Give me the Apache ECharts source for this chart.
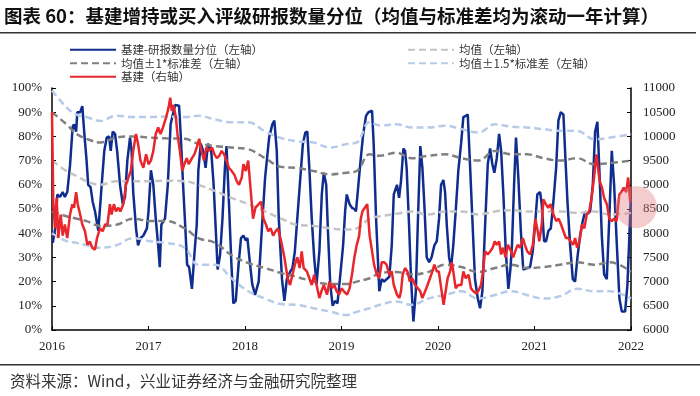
<!DOCTYPE html>
<html>
<head>
<meta charset="utf-8">
<script src="https://cdn.jsdelivr.net/npm/echarts@6/dist/echarts.min.js"></script>
<style>
  html, body { margin: 0; padding: 0; background: #fff; }
  #chart { width: 700px; height: 396px; }
</style>
</head>
<body>
<div id="chart"></div>
<script>
// x 值为 2016-01 起的月数
const yearLabels = ['2016', '2017', '2018', '2019', '2020', '2021', '2022'];

// 基建-研报数量分位（%）
const blue = [
  [0.1,36],[0.4,42],[0.66,56],[1.0,55],[1.33,57],[1.6,55],[1.9,57],[2.24,68],[2.57,84],[2.74,85],[3.0,82],[3.15,90],
  [3.5,90],[3.77,92.5],[4.0,82],[4.3,70],[4.5,60],[4.8,59],[5.06,53],[5.35,49],[5.76,41],[6.18,60],[6.5,74],[6.8,79.5],
  [7.1,80],[7.3,74],[7.55,82],[7.84,81],[8.1,74],[8.46,60],[8.8,52],[9.08,55],[9.37,70],[9.7,79.5],[9.9,74],[10.1,57],
  [10.45,42],[10.7,35],[11.0,38],[11.36,39],[11.8,42],[12.0,49],[12.3,66],[12.6,60],[12.9,46],[13.2,35],[13.4,26],
  [13.6,43.5],[14.05,46],[14.4,60],[14.75,85],[15.3,93],[15.8,92.7],[16.0,81],[16.3,60],[16.6,41],[16.8,27],[17.05,26],
  [17.4,17],[17.7,31],[18.0,43.5],[18.2,66],[18.5,77],[18.8,74],[19.1,67],[19.4,77],[19.8,74],[20.1,60],[20.4,39],
  [20.6,25],[20.9,31],[21.2,46],[21.5,67],[21.7,76],[22.0,53],[22.3,28],[22.55,11],[22.85,12],[23.2,27],[23.5,38],
  [23.8,39],[24.1,37],[24.3,38],[24.6,28],[24.9,19],[25.25,14.5],[25.7,20],[26.1,42],[26.5,63],[27.0,79.5],[27.4,85],
  [27.65,86.5],[27.95,74],[28.2,46],[28.6,21],[28.9,12],[29.2,21],[29.6,24],[29.9,25.5],[30.2,32.5],[30.5,46],
  [30.85,61.5],[31.2,77],[31.5,81.6],[31.75,82],[32.0,67],[32.3,46],[32.6,30],[32.9,19],[33.25,32.5],[33.55,56],
  [33.8,65],[34.1,60],[34.3,42],[34.6,19],[34.9,10],[35.2,12],[35.5,11],[35.8,21],[36.2,35],[36.45,49],[36.65,56],
  [37.0,52],[37.3,50.5],[37.6,50],[37.8,49],[38.1,60],[38.4,71],[38.7,81],[39.05,88.5],[39.35,90],[39.8,90.6],
  [40.0,77],[40.3,46],[40.7,16],[41.0,21],[41.3,20],[41.6,21],[41.95,22],[42.25,35],[42.5,56],[42.9,60],[43.16,54.6],
  [43.4,61.5],[43.7,75],[43.9,74],[44.1,67],[44.4,43.5],[44.65,21],[44.94,3.5],[45.24,16],[45.5,45],[45.8,76],
  [46.06,67],[46.3,52],[46.6,30],[46.9,28],[47.2,30],[47.55,35],[47.85,36.7],[48.13,46],[48.38,60],[48.67,62],
  [48.88,57],[49.09,43.5],[49.38,30],[49.63,26],[49.9,35],[50.2,49],[50.53,66],[50.87,77],[51.15,88],[51.45,88.5],
  [51.7,89],[52.0,67],[52.27,46],[52.6,21],[52.95,13],[53.23,9],[53.52,16],[53.86,43.5],[54.19,68.5],[54.48,75],
  [54.76,68.5],[55.01,65],[55.31,71],[55.6,81],[55.85,74],[56.13,56],[56.43,32.5],[56.75,17],[57.0,25],[57.2,35],
  [57.46,60],[57.7,79.5],[57.99,63],[58.3,41],[58.6,25],[59.0,25.5],[59.45,26],[59.78,32.5],[60.07,43.5],[60.35,56],
  [60.7,57],[60.9,52],[61.19,36.7],[61.44,36.7],[61.73,41],[62.03,42],[62.35,53],[62.69,67],[62.97,86.5],[63.27,90],
  [63.6,89],[63.8,74],[64.1,53],[64.43,35],[64.76,21],[65.05,20],[65.34,30],[65.67,39],[66.0,45],[66.29,49],
  [66.58,48],[66.92,49],[67.25,60],[67.54,82],[67.82,86],[68.07,66],[68.37,39],[68.66,23],[68.99,21],[69.32,48],
  [69.61,74],[69.9,60],[70.24,35],[70.56,13],[70.86,7.6],[71.27,7.6],[71.56,19],[71.8,39],[71.98,55]
];

// 滚动一年均值与标准差带（%）
const meanLine = [
  [0,70],[1.8,65.7],[3.07,63.6],[4.3,61.5],[6.0,60],[8.0,61.5],[10.1,61.5],[12.2,61.5],[14.2,61.7],[16.5,61.5],
  [18.2,60],[20.3,57.4],[22.3,54.6],[24.4,52],[26.5,49],[28.5,46],[30.4,43.5],[32.5,43],[34.6,42],[36.6,41.5],
  [37.9,42],[39.5,46],[40.8,47],[42.8,48],[44.7,49],[46.8,47.7],[48.9,49],[50.9,49],[53.0,47.7],[55.1,49],
  [57.1,49.5],[59.05,49],[61.1,49],[63.2,49],[65.3,48.4],[67.4,49],[69.4,47.7],[72,48.4]
];
const sd1Upper = [
  [0,90],[1.8,85],[3.07,81],[4.3,79],[6.0,77.5],[8.0,79.5],[10.1,80],[12.2,79.5],[14.2,79.2],[16.5,79],
  [18.2,77],[20.3,76],[22.3,75.4],[24.4,74.7],[26.5,71],[28.5,67.4],[30.4,67],[32.5,65.7],[34.6,64.3],[36.6,65],
  [37.9,65.7],[39.5,72.6],[40.8,72],[42.8,73.3],[44.7,71],[46.8,72],[48.9,72.6],[50.9,71],[53.0,70],[55.1,74],
  [57.1,72.6],[59.05,72.6],[61.1,71],[63.2,70],[65.3,71],[67.4,68.5],[69.4,69],[72,70]
];
const sd1Lower = [
  [0,49],[1.8,47],[3.07,46],[4.3,45],[6.0,43],[8.0,43.5],[10.1,46],[12.2,45],[14.2,45],[16.5,42],
  [18.2,38],[20.3,36],[22.3,31],[24.4,27.7],[26.5,25.6],[28.5,23.5],[30.4,22],[32.5,20],[34.6,19],[36.6,19],
  [37.9,20],[39.5,21.4],[40.8,23.5],[42.8,24],[44.7,23],[46.8,24],[48.9,27],[50.9,26],[53.0,24],[55.1,25.6],
  [57.1,27],[59.05,25.6],[61.1,26],[63.2,27],[65.3,28],[67.4,27],[69.4,28],[72,24]
];
const sd15Upper = [
  [0,99],[1.8,92],[3.07,89],[4.3,88],[6.0,86.4],[8.0,88.5],[10.1,88],[12.2,88],[14.2,88.2],[16.5,88],
  [18.2,88.5],[20.3,87],[22.3,85.8],[24.4,85.8],[26.5,82],[28.5,79.3],[30.4,78],[32.5,77.5],[34.6,75.4],[36.6,76.8],
  [37.9,77.5],[39.5,85.8],[40.8,84.5],[42.8,85],[44.7,83.7],[46.8,83.7],[48.9,84.4],[50.9,83],[53.0,81.6],[55.1,85],
  [57.1,84],[59.05,83.7],[61.1,83],[63.2,82.3],[65.3,82.3],[67.4,78.8],[69.4,79.5],[72,80.9]
];
const sd15Lower = [
  [0,40],[1.8,36.7],[3.07,36],[4.3,35],[6.0,34],[8.0,35],[10.1,38],[12.2,36.7],[14.2,36],[16.5,34],
  [18.2,27],[20.3,27],[22.3,21.4],[24.4,16],[26.5,13],[28.5,10.7],[30.4,10.4],[32.5,9],[34.6,7.6],[36.6,6.2],
  [37.9,7.5],[39.5,9],[40.8,10.4],[42.8,11.8],[44.7,10.4],[46.8,13],[48.9,14.5],[50.9,16],[53.0,13],[55.1,14.5],
  [57.1,16],[59.05,14.5],[61.1,13],[63.2,14],[65.3,17],[67.4,16],[69.4,16],[72,13]
];

// 基建指数（右轴）
const red = [
  [0,10500],[0.16,8650],[0.37,8100],[0.58,8730],[0.78,7900],[1.08,8385],[1.33,7950],[1.6,8180],[1.9,7900],[2.24,8385],
  [2.53,8600],[2.74,8525],[3.0,8850],[3.2,8600],[3.5,8385],[3.77,8180],[4.1,8040],[4.4,7760],[4.7,7830],[5.0,7700],
  [5.35,7660],[5.6,7900],[5.97,8100],[6.3,8040],[6.6,8180],[6.9,8180],[7.2,8600],[7.4,8385],[7.7,8600],[7.96,8450],
  [8.25,8525],[8.5,8450],[8.87,8600],[9.2,9000],[9.5,9150],[9.8,9285],[10.1,9700],[10.45,10050],[10.7,9850],[11.0,9500],
  [11.36,9350],[11.7,9630],[12.0,9425],[12.3,9500],[12.6,9700],[12.9,10050],[13.2,10185],[13.5,10050],[13.8,10185],
  [14.2,10400],[14.5,10600],[14.7,10800],[14.9,10530],[15.1,10650],[15.4,10400],[15.6,10050],[15.9,9700],[16.2,9285],
  [16.45,9425],[16.75,9550],[17.0,9425],[17.4,9550],[17.7,9630],[18.0,9770],[18.3,9950],[18.6,9700],[18.9,9500],
  [19.2,9770],[19.5,9700],[19.9,9770],[20.2,9630],[20.5,9550],[20.8,9600],[21.1,9700],[21.4,9630],[21.7,9500],
  [22.0,9350],[22.35,9285],[22.7,9200],[22.97,9075],[23.25,9000],[23.6,9150],[23.8,9425],[24.1,9285],[24.4,9500],
  [24.75,8800],[25.0,8300],[25.3,8525],[25.7,8600],[26.0,8650],[26.3,8300],[26.6,8180],[26.9,8040],[27.2,8100],
  [27.5,7950],[27.8,8040],[28.1,8100],[28.5,7830],[28.9,7500],[29.3,7070],[29.6,6930],[29.9,7140],[30.2,7350],
  [30.5,7500],[30.8,7280],[31.05,7625],[31.3,7280],[31.7,7210],[32.0,7070],[32.3,6930],[32.6,7140],[32.9,6930],
  [33.25,6660],[33.5,6800],[33.8,6930],[34.2,6730],[34.5,7000],[34.8,6860],[35.1,6930],[35.4,6800],[35.7,6730],
  [36.0,6860],[36.3,6800],[36.7,6730],[37.0,6860],[37.3,7140],[37.6,7500],[37.9,7760],[38.2,7950],[38.4,8300],
  [38.6,8450],[38.9,8525],[39.2,8600],[39.5,7950],[39.8,7625],[40.05,7350],[40.4,7140],[40.7,7070],[41.0,7400],
  [41.3,7400],[41.6,7350],[41.95,7140],[42.25,7210],[42.5,6930],[42.9,6730],[43.2,6660],[43.4,6800],[43.6,7140],
  [43.9,7280],[44.2,7210],[44.5,7000],[44.8,7070],[45.15,6930],[45.5,6860],[45.8,6800],[46.05,6660],[46.4,6800],
  [46.7,6930],[47.0,7070],[47.3,7210],[47.55,7350],[47.85,7210],[48.1,7210],[48.4,6860],[48.7,6520],[48.95,6800],
  [49.2,7070],[49.5,7210],[49.7,7400],[49.9,7210],[50.2,6860],[50.5,6930],[50.9,6930],[51.15,7210],[51.45,7070],
  [51.8,7140],[52.1,6860],[52.4,6800],[52.7,6760],[53.0,6800],[53.35,6930],[53.6,7210],[53.85,7625],[54.2,7560],
  [54.5,7625],[54.8,7700],[55.05,7830],[55.3,7760],[55.6,7830],[55.85,7560],[56.1,7700],[56.4,7500],[56.7,7760],
  [57.1,7625],[57.35,7500],[57.6,7625],[57.9,7760],[58.2,7700],[58.55,7900],[58.8,7760],[59.1,7625],[59.45,7560],
  [59.8,7760],[60.1,8300],[60.4,8040],[60.6,7830],[60.9,8180],[61.1,8700],[61.4,8600],[61.7,8525],[62.0,8600],
  [62.35,8385],[62.7,8250],[63.0,8300],[63.3,8180],[63.6,8040],[63.9,7900],[64.2,7900],[64.5,7830],[64.8,7760],
  [65.05,7900],[65.3,7700],[65.6,7830],[65.9,8180],[66.2,8100],[66.5,8385],[66.8,8450],[67.1,8730],[67.4,9150],
  [67.7,9630],[68.1,9075],[68.4,8940],[68.65,8730],[69.0,8600],[69.3,8300],[69.6,8250],[69.9,8300],[70.2,8250],
  [70.55,8800],[70.8,8850],[71.1,8940],[71.4,8850],[71.65,9150],[71.9,8650]
];

const chart = echarts.init(document.getElementById('chart'));

const numFont = 'Liberation Serif';
const cjkFont = '"Noto Sans CJK SC", sans-serif';

function dashLine(name, data, color) {
  return {
    name: name,
    type: 'line',
    data: data,
    smooth: 0.4,
    symbol: 'none',
    silent: true,
    lineStyle: { color: color, width: 2.5, type: [7, 4] },
    itemStyle: { color: color }
  };
}

const legendBase = {
  top: 39, orient: 'vertical', itemGap: 2, itemWidth: 46, itemHeight: 12,
  itemStyle: { opacity: 0 },
  textStyle: { fontFamily: cjkFont, fontSize: 11.5, color: '#333' }
};

chart.setOption({
  animation: false,
  backgroundColor: '#fff',
  grid: { left: 52, right: 69, top: 88, bottom: 66 },
  legend: [
    Object.assign({}, legendBase, {
      left: 64,
      data: ['基建-研报数量分位（左轴）', '均值±1*标准差（左轴）', '基建（右轴）']
    }),
    Object.assign({}, legendBase, {
      left: 402,
      data: ['均值（左轴）', '均值±1.5*标准差（左轴）']
    })
  ],
  xAxis: {
    type: 'value', min: 0, max: 72, interval: 12,
    axisLine: { lineStyle: { color: '#000', width: 1.5 } },
    axisTick: { inside: true, length: 4, lineStyle: { color: '#000' } },
    splitLine: { show: false },
    axisLabel: {
      formatter: v => yearLabels[v / 12], margin: 10,
      fontFamily: numFont, fontSize: 13, color: '#222'
    }
  },
  yAxis: [
    {
      type: 'value', min: 0, max: 100, interval: 10,
      axisLine: { show: true, lineStyle: { color: '#000', width: 1.5 } },
      axisTick: { show: true, inside: true, length: 4, lineStyle: { color: '#000' } },
      splitLine: { show: false },
      axisLabel: { formatter: '{value}%', margin: 10, fontFamily: numFont, fontSize: 13, color: '#222' }
    },
    {
      type: 'value', min: 6000, max: 11000, interval: 500,
      axisLine: { show: true, lineStyle: { color: '#000', width: 1.5 } },
      axisTick: { show: true, inside: true, length: 4, lineStyle: { color: '#000' } },
      splitLine: { show: false },
      axisLabel: {
        formatter: v => String(v), margin: 12,
        fontFamily: numFont, fontSize: 13, color: '#222'
      }
    }
  ],
  series: [
    {
      name: '基建-研报数量分位（左轴）', type: 'line', data: blue, symbol: 'none',
      lineStyle: { color: '#0e2d8e', width: 2.5 }, itemStyle: { color: '#0e2d8e' }
    },
    dashLine('均值（左轴）', meanLine, '#c4c4c4'),
    dashLine('均值±1*标准差（左轴）', sd1Upper, '#808080'),
    dashLine('均值±1*标准差（左轴）', sd1Lower, '#808080'),
    dashLine('均值±1.5*标准差（左轴）', sd15Upper, '#b7cbe8'),
    dashLine('均值±1.5*标准差（左轴）', sd15Lower, '#b7cbe8'),
    {
      name: '基建（右轴）', type: 'line', yAxisIndex: 1, data: red, symbol: 'none',
      lineStyle: { color: '#e8262b', width: 2.5 }, itemStyle: { color: '#e8262b' }
    }
  ],
  graphic: [
    {
      type: 'text', left: 4, top: 7,
      style: {
        text: '图表 60：基建增持或买入评级研报数量分位（均值与标准差均为滚动一年计算）',
        fontFamily: cjkFont, fontSize: 18.5, fontWeight: 'bold', fill: '#111'
      }
    },
    { type: 'rect', left: 0, top: 32, shape: { width: 696, height: 1.5 }, style: { fill: '#333' } },
    { type: 'rect', left: 0, top: 364, shape: { width: 700, height: 1.5 }, style: { fill: '#333' } },
    {
      type: 'text', left: 10, top: 373,
      style: {
        text: '资料来源：Wind，兴业证券经济与金融研究院整理',
        fontFamily: cjkFont, fontSize: 15.5, fill: '#333'
      }
    },
    {
      type: 'circle', z: 100, shape: { cx: 636, cy: 207, r: 21 },
      style: { fill: 'rgba(226,120,125,0.38)' }
    }
  ]
});
</script>
</body>
</html>
